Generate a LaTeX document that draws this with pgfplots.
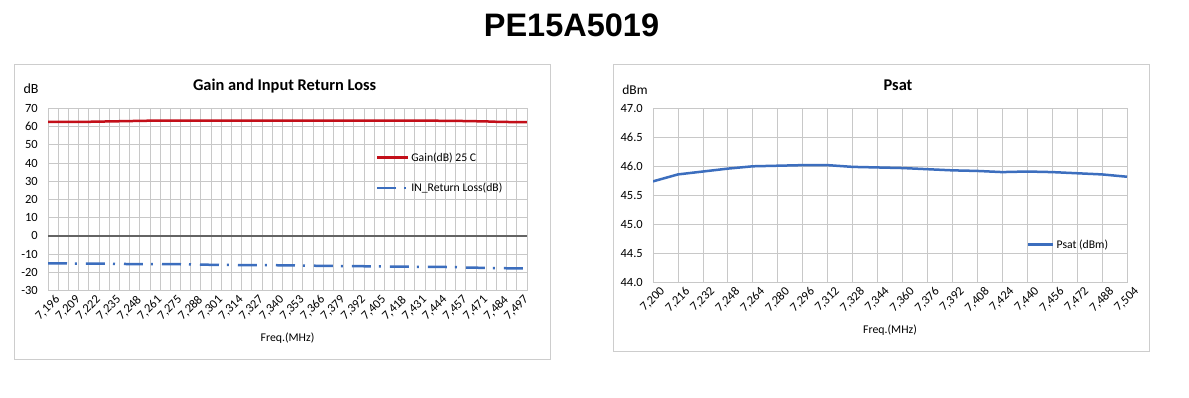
\documentclass[border=0pt]{standalone}
\usepackage{fontspec}
\setmainfont{Carlito}
\newfontfamily\arialfont{Liberation Sans}
\usepackage{pgfplots}
\pgfplotsset{compat=1.18}
\definecolor{gridgray}{RGB}{200,200,200}
\definecolor{zerogray}{RGB}{100,100,100}
\definecolor{gainred}{RGB}{195,15,25}
\definecolor{lineblue}{RGB}{60,110,190}
\definecolor{framegray}{RGB}{205,205,205}

\pgfplotstableread{
idx gain rl
0 62.5 -15.0
1 62.5 -15.0
2 62.5 -15.1
3 62.6 -15.1
4 62.6 -15.1
5 62.7 -15.2
6 62.8 -15.2
7 62.9 -15.3
8 63.0 -15.4
9 63.1 -15.4
10 63.2 -15.4
11 63.2 -15.4
12 63.3 -15.5
13 63.3 -15.5
14 63.3 -15.6
15 63.3 -15.7
16 63.3 -15.8
17 63.3 -15.9
18 63.3 -15.9
19 63.3 -16.0
20 63.3 -16.0
21 63.3 -16.0
22 63.3 -16.0
23 63.3 -16.1
24 63.3 -16.1
25 63.3 -16.2
26 63.3 -16.3
27 63.2 -16.4
28 63.2 -16.4
29 63.2 -16.5
30 63.2 -16.5
31 63.2 -16.6
32 63.2 -16.6
33 63.2 -16.7
34 63.2 -16.8
35 63.2 -16.8
36 63.2 -16.9
37 63.2 -16.9
38 63.2 -17.0
39 63.1 -17.0
40 63.1 -17.1
41 63.0 -17.3
42 62.9 -17.4
43 62.8 -17.5
44 62.6 -17.6
45 62.5 -17.7
46 62.4 -17.8
47 62.4 -17.8
}\leftdata

\pgfplotstableread{
idx psat
0 45.74
1 45.86
2 45.91
3 45.96
4 46.00
5 46.01
6 46.02
7 46.02
8 45.99
9 45.98
10 45.97
11 45.95
12 45.93
13 45.92
14 45.90
15 45.91
16 45.90
17 45.88
18 45.86
19 45.82
}\rightdata

\pgfplotsset{
  common/.style={
    scale only axis,
    anchor=south west,
    axis line style={gridgray},
    grid=major,
    major grid style={gridgray, line width=0.8pt},
    tick style={draw=none},
    ticklabel style={font=\fontsize{12.5}{13}\selectfont},
    /pgf/number format/assume math mode=true,
    xticklabel style={rotate=45, anchor=north east, inner sep=0pt, yshift=-7pt, xshift=2pt},
    yticklabel style={inner sep=0pt, xshift=-10pt},
    legend cell align=left,
    legend image code/.code={\draw[##1] (0pt,0pt) -- (31pt,0pt);},
  }
}

\begin{document}
\begin{tikzpicture}[x=1pt,y=1pt]
\path[use as bounding box] (0,0) rectangle (1189,398);
\fill[white] (0,0) rectangle (1189,398);
\draw[framegray, line width=1pt] (14,38.7) rectangle (550,333.5);
\draw[framegray, line width=1pt] (613.7,46.4) rectangle (1149,333.4);
\node[font=\arialfont\bfseries\fontsize{32.5}{33}\selectfont] at (571.5,373) {PE15A5019};

\node[font=\fontsize{14}{15}\selectfont] at (31,309.8) {dB};
\node[font=\bfseries\fontsize{16.4}{17}\selectfont] at (284.6,311.5) {Gain and Input Return Loss};
\node[font=\fontsize{11.8}{12}\selectfont] at (287.5,60) {Freq.(MHz)};

\node[font=\fontsize{13.5}{14}\selectfont] at (635,308.4) {dBm};
\node[font=\bfseries\fontsize{16.4}{17}\selectfont] at (898,312.4) {Psat};
\node[font=\fontsize{11.8}{12}\selectfont] at (890,68) {Freq.(MHz)};

\begin{axis}[common,
  at={(48pt,107.3pt)}, width=479pt, height=182.4pt,
  xmin=0, xmax=47, ymin=-30, ymax=70,
  xtick={0,1,...,47},
  xticklabels={{7,196},{},{7,209},{},{7,222},{},{7,235},{},{7,248},{},{7,261},{},{7,275},{},{7,288},{},{7,301},{},{7,314},{},{7,327},{},{7,340},{},{7,353},{},{7,366},{},{7,379},{},{7,392},{},{7,405},{},{7,418},{},{7,431},{},{7,444},{},{7,457},{},{7,471},{},{7,484},{},{7,497},{},{}},
  ytick={-30,-20,...,70},
  extra y ticks={0}, extra y tick labels={},
  extra y tick style={major grid style={zerogray, line width=1.5pt}},
  legend style={at={(0.684,0.769)}, anchor=north west, draw=none, fill=none,
    font=\fontsize{11.7}{12}\selectfont, row sep=16.5pt, inner sep=0pt},
]
\addplot[gainred, line width=2.5pt] table[x=idx, y=gain] {\leftdata};
\addlegendentry{Gain(dB) 25 C}
\addplot[lineblue, line width=2.5pt, dash pattern=on 19pt off 8pt on 2pt off 9pt] table[x=idx, y=rl] {\leftdata};
\addlegendentry{IN\_Return Loss(dB)}
\end{axis}

\begin{axis}[common,
  at={(653pt,115.7pt)}, width=474pt, height=174pt,
  xmin=0, xmax=19, ymin=44, ymax=47,
  xtick={0,1,...,19},
  xticklabels={{7,200},{7,216},{7,232},{7,248},{7,264},{7,280},{7,296},{7,312},{7,328},{7,344},{7,360},{7,376},{7,392},{7,408},{7,424},{7,440},{7,456},{7,472},{7,488},{7,504}},
  ytick={44,44.5,...,47},
  yticklabel style={/pgf/number format/.cd, fixed, fixed zerofill, precision=1},
  legend style={at={(0.789,0.217)}, anchor=west, draw=none, fill=none,
    font=\fontsize{11.7}{12}\selectfont, inner sep=0pt},
  legend image code/.code={\draw[#1] (0pt,0pt) -- (25pt,0pt);},
]
\addplot[lineblue, line width=2.5pt] table[x=idx, y=psat] {\rightdata};
\addlegendentry{Psat (dBm)}
\end{axis}
\end{tikzpicture}
\end{document}
